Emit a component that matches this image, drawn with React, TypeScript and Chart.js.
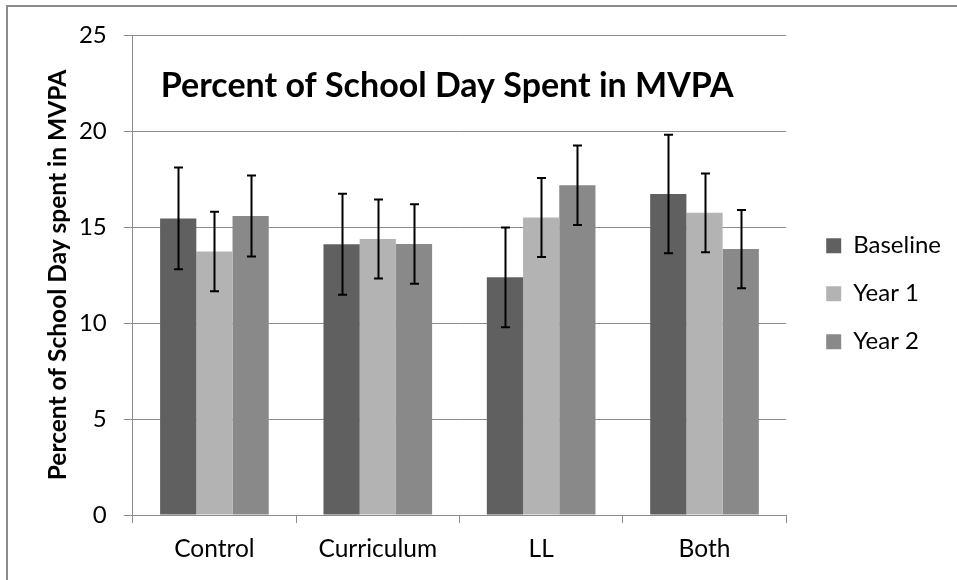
import React, { useEffect, useRef } from "react";
import { Chart, registerables } from "chart.js";

Chart.register(...registerables);

const categories = ["Control", "Curriculum", "LL", "Both"];
const seriesNames = ["Baseline", "Year 1", "Year 2"];
const seriesColors = ["#606060", "#b3b3b3", "#898989"];
const baseline = [15.45, 14.11, 12.38, 16.72];
const year1 = [13.72, 14.38, 15.5, 15.74];
const year2 = [15.58, 14.12, 17.17, 13.85];
const baselineErr = [2.65, 2.63, 2.6, 3.09];
const year1Err = [2.07, 2.06, 2.06, 2.05];
const year2Err = [2.11, 2.07, 2.07, 2.04];
const yMin = 0;
const yMax = 25;
const yStep = 5;
const chartTitle = "Percent of School Day Spent in MVPA";
const yAxisTitle = "Percent of School Day spent in MVPA";

const seriesValues = [baseline, year1, year2];
const seriesErrors = [baselineErr, year1Err, year2Err];

const FONT = "Lato, 'Open Sans', sans-serif";
const GRID = "#8c8c8c";

const errorBarPlugin = {
  id: "errorBars",
  afterDatasetsDraw(chart: any) {
    const { ctx } = chart;
    const yScale = chart.scales.y;
    chart.data.datasets.forEach((ds: any, di: number) => {
      const meta = chart.getDatasetMeta(di);
      const errs = seriesErrors[di];
      meta.data.forEach((bar: any, i: number) => {
        const v = ds.data[i];
        const e = errs[i];
        const x = Math.round(bar.x) + 0.5;
        const yTop = yScale.getPixelForValue(v + e);
        const yBot = yScale.getPixelForValue(v - e);
        ctx.save();
        ctx.strokeStyle = "#000";
        ctx.lineWidth = 2;
        ctx.beginPath();
        ctx.moveTo(x, yTop);
        ctx.lineTo(x, yBot);
        ctx.moveTo(x - 4.5, yTop);
        ctx.lineTo(x + 4.5, yTop);
        ctx.moveTo(x - 4.5, yBot);
        ctx.lineTo(x + 4.5, yBot);
        ctx.stroke();
        ctx.restore();
      });
    });
  },
};

const innerTitlePlugin = {
  id: "innerTitle",
  afterDraw(chart: any) {
    const { ctx, chartArea } = chart;
    ctx.save();
    ctx.fillStyle = "#000";
    ctx.font = `bold 34px ${FONT}`;
    ctx.textAlign = "left";
    ctx.textBaseline = "alphabetic";
    ctx.fillText(chartTitle, chartArea.left + 28, chartArea.top + 62);
    ctx.restore();
  },
};

const legendShiftPlugin = {
  id: "legendShift",
  afterLayout(chart: any) {
    const lg = chart.legend;
    if (lg) {
      lg.left += 16;
      lg.right += 16;
      lg.top -= 11;
      lg.bottom -= 11;
    }
  },
};

export default function App() {
  const canvasRef = useRef<HTMLCanvasElement | null>(null);

  useEffect(() => {
    if (!canvasRef.current) return;
    const chart = new Chart(canvasRef.current, {
      type: "bar",
      data: {
        labels: categories,
        datasets: seriesNames.map((name, i) => ({
          label: name,
          data: seriesValues[i],
          backgroundColor: seriesColors[i],
          borderWidth: 0,
          categoryPercentage: 0.665,
          barPercentage: 1.0,
        })),
      },
      options: {
        animation: false,
        responsive: false,
        maintainAspectRatio: false,
        layout: { padding: { left: 43, right: 22, top: 35, bottom: 5.5 } },
        plugins: {
          tooltip: { enabled: false },
          title: { display: false },
          legend: {
            display: true,
            position: "right",
            labels: {
              boxWidth: 15,
              boxHeight: 15,
              padding: 24,
              color: "#000",
              font: { family: FONT, size: 24 },
            },
          },
        },
        scales: {
          x: {
            grid: {
              display: true,
              drawOnChartArea: false,
              drawTicks: true,
              tickLength: 8,
              color: GRID,
              offset: true,
            },
            border: { display: true, color: GRID, width: 1 },
            ticks: { color: "#000", font: { family: FONT, size: 24.5 }, padding: 11 },
          },
          y: {
            min: yMin,
            max: yMax,
            ticks: {
              stepSize: yStep,
              color: "#000",
              font: { family: FONT, size: 24 },
              padding: 17,
            },
            grid: { color: GRID, tickLength: 9, lineWidth: 1 },
            border: { display: true, color: GRID, width: 1 },
            title: {
              display: true,
              text: yAxisTitle,
              color: "#000",
              font: { family: FONT, size: 24.5, weight: "bold" },
              padding: { top: 0, bottom: -10.5 },
            },
          },
        },
      },
      plugins: [errorBarPlugin, innerTitlePlugin, legendShiftPlugin],
    });
    return () => chart.destroy();
  }, []);

  return (
    <div style={{ position: "fixed", left: 0, top: 0, width: 957, height: 580, background: "#fff" }}>
      <canvas ref={canvasRef} width={957} height={580} style={{ position: "absolute", left: 0, top: 0 }} />
      <div
        style={{
          position: "absolute",
          left: 6,
          top: 5,
          width: 1000,
          height: 1000,
          borderLeft: "2px solid #8c8c8c",
          borderTop: "2px solid #8c8c8c",
          pointerEvents: "none",
        }}
      />
    </div>
  );
}
